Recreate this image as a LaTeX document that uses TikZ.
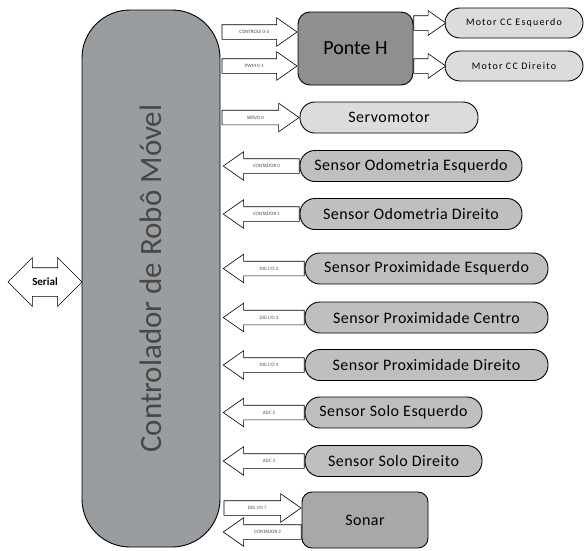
\documentclass[tikz,border=0pt]{standalone}
\usepackage{fontspec}
\setmainfont{Carlito}
\usetikzlibrary{shapes.arrows}
\usetikzlibrary{positioning}
\definecolor{ctrlgray}{HTML}{9A9D9F}
\definecolor{pontegray}{HTML}{8F8F8F}
\definecolor{sensorgray}{HTML}{BFBFBF}
\definecolor{sonargray}{HTML}{A8A8A8}
\definecolor{motorgray}{HTML}{DCDCDC}

\begin{document}
\begin{tikzpicture}[x=1pt, y=-1pt,
    box/.style={draw, line width=0.9pt, inner sep=0pt, align=center},
    pill/.style={box, rounded corners=15pt, minimum height=31pt,
        font=\fontsize{16}{18}\selectfont\addfontfeature{LetterSpace=3}},
    sensor/.style={pill, fill=sensorgray},
    lightpill/.style={pill, fill=motorgray},
    rarrow/.style={single arrow, draw, line width=0.6pt, fill=white,
        single arrow head extend=7pt, single arrow tip angle=70,
        inner xsep=1pt, inner ysep=5pt, text height=3.5pt, text depth=0.5pt,
        font=\fontsize{5}{6}\selectfont, text=black!70},
    larrow/.style={rarrow, shape border rotate=180}]

    \useasboundingbox (0,0) rectangle (584,550);

    % Controller
    \node[box, fill=ctrlgray, rounded corners=48pt, rotate=90,
        minimum width=537pt, minimum height=138pt,
        font=\fontsize{31}{34}\selectfont, text=black!72] (ctrl) at (151,278.5)
        {Controlador de Robô Móvel};

    % Serial link
    \node[double arrow, draw, line width=0.6pt, fill=white, minimum height=74pt,
        double arrow head extend=10pt, double arrow tip angle=90,
        inner xsep=1pt, inner ysep=9pt, text height=8pt, text depth=2pt,
        font=\fontsize{11}{12}\selectfont\bfseries] (serial) at (45,282) {Serial};

    % H bridge and motors
    \node[box, fill=pontegray, rounded corners=12pt, minimum width=115pt,
        minimum height=73pt, font=\fontsize{20}{22}\selectfont] (ponte) at (355.5,48.5) {Ponte H};
    \node[lightpill, minimum width=138pt, minimum height=30pt,
        font=\fontsize{10}{12}\selectfont\addfontfeature{LetterSpace=12}] (motorE) at (514,23) {Motor CC Esquerdo};
    \node[lightpill, minimum width=138pt, minimum height=30pt,
        font=\fontsize{10}{12}\selectfont\addfontfeature{LetterSpace=12}] (motorD) at (514,66) {Motor CC Direito};

    \node[rarrow, anchor=tip, minimum height=75pt] (aControle) at ([yshift=16.5pt]ponte.west) {CONTROLE 0-3};
    \node[rarrow, anchor=tip, minimum height=75pt] (aPwm) at ([yshift=-17.5pt]ponte.west) {PWM 0-1};
    \node[rarrow, anchor=tail, minimum height=32pt, single arrow head extend=5pt] (aMotorE) at (ponte.east |- motorE.west) {};
    \node[rarrow, anchor=tail, minimum height=32pt, single arrow head extend=5pt] (aMotorD) at (ponte.east |- motorD.west) {};

    % Servo
    \node[lightpill, minimum width=178pt] (servo) at (389,117.5) {Servomotor};
    \node[rarrow, anchor=tip, minimum height=77pt] (aServo) at (servo.west) {SERVO 0};

    % Odometry
    \node[sensor, minimum width=222pt] (odoE) at (411,166) {Sensor Odometria Esquerdo};
    \node[sensor, minimum width=222pt] (odoD) at (411,214) {Sensor Odometria Direito};
    \node[larrow, anchor=tail, minimum height=76pt] (aOdoE) at (odoE.west) {CONTADOR 0};
    \node[larrow, anchor=tail, minimum height=76pt] (aOdoD) at (odoD.west) {CONTADOR 1};

    % Proximity
    \node[sensor, minimum width=243pt] (proxE) at (426.5,268.5) {Sensor Proximidade Esquerdo};
    \node[sensor, minimum width=243pt] (proxC) at (426.5,317.5) {Sensor Proximidade Centro};
    \node[sensor, minimum width=243pt] (proxD) at (426.5,365) {Sensor Proximidade Direito};
    \node[larrow, anchor=tail, minimum height=81pt] (aProxE) at (proxE.west) {DIG I/O 2};
    \node[larrow, anchor=tail, minimum height=81pt] (aProxC) at (proxC.west) {DIG I/O 3};
    \node[larrow, anchor=tail, minimum height=81pt] (aProxD) at (proxD.west) {DIG I/O 4};

    % Ground sensors
    \node[sensor, minimum width=177pt] (soloE) at (393.5,412.5) {Sensor Solo Esquerdo};
    \node[sensor, minimum width=177pt] (soloD) at (393.5,461) {Sensor Solo Direito};
    \node[larrow, anchor=tail, minimum height=81pt] (aSoloE) at (soloE.west) {ADC 2};
    \node[larrow, anchor=tail, minimum height=81pt] (aSoloD) at (soloD.west) {ADC 3};

    % Sonar
    \node[box, fill=sonargray, rounded corners=10pt, minimum width=126pt,
        minimum height=56pt, font=\fontsize{16}{18}\selectfont\addfontfeature{LetterSpace=3}] (sonar) at (365,520) {Sonar};
    \node[rarrow, anchor=tip, minimum height=77pt] (aSonarIn) at ([yshift=12pt]sonar.west) {DIG I/O 7};
    \node[larrow, anchor=tail, minimum height=78pt] (aSonarOut) at ([yshift=-12pt]sonar.west) {CONTADOR 2};
\end{tikzpicture}
\end{document}
